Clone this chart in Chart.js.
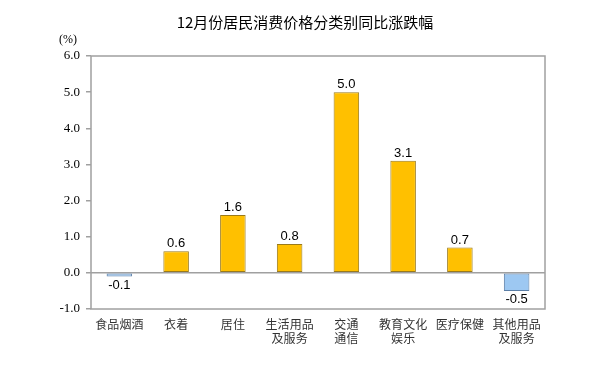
<!DOCTYPE html>
<html><head><meta charset="utf-8">
<script src="https://cdn.jsdelivr.net/npm/chart.js@4"></script>
<style>html,body{margin:0;padding:0;background:#fff}#wrap{width:607px;height:382px}</style>
</head><body><div id="wrap"><canvas id="c"></canvas></div>
<script>
const categoryLabels = [["食品烟酒"],["衣着"],["居住"],["生活用品","及服务"],["交通","通信"],["教育文化","娱乐"],["医疗保健"],["其他用品","及服务"]];
const values = [-0.1, 0.6, 1.6, 0.8, 5.0, 3.1, 0.7, -0.5];
const yTicks = [-1, 0, 1, 2, 3, 4, 5, 6];
const titleText = "12月份居民消费价格分类别同比涨跌幅";
const unitText = "(%)";

const posFill = '#FFC000', posBorder = '#9A7A1A';
const negFill = '#9DC8F2', negBorder = '#5A7EA6';

const decor = {
  id: 'decor',
  afterDraw(chart) {
    const ctx = chart.ctx, a = chart.chartArea;
    ctx.save();
    ctx.strokeStyle = '#A0A0A0'; ctx.lineWidth = 1.5;
    ctx.strokeRect(a.left, a.top, a.right - a.left, a.bottom - a.top);
    ctx.fillStyle = '#000';
    ctx.font = '15px "Noto Sans CJK SC"';
    ctx.textAlign = 'center'; ctx.textBaseline = 'middle';
    ctx.fillText(titleText, 305, 22);
    ctx.font = '12px "Liberation Serif"';
    ctx.fillText(unitText, 68, 40);
    const meta = chart.getDatasetMeta(0);
    ctx.font = '13px "Liberation Sans"';
    meta.data.forEach((bar, i) => {
      const v = values[i];
      if (v >= 0) { ctx.textBaseline = 'bottom'; ctx.fillText(v.toFixed(1), bar.x, bar.y - 1); }
      else { ctx.textBaseline = 'top'; ctx.fillText(v.toFixed(1), bar.x, bar.y + 2); }
    });
    ctx.restore();
  }
};

new Chart(document.getElementById('c'), {
  type: 'bar',
  data: {
    labels: categoryLabels,
    datasets: [{
      data: values,
      backgroundColor: values.map(v => v >= 0 ? posFill : negFill),
      borderColor: values.map(v => v >= 0 ? posBorder : negBorder),
      borderWidth: 1,
      borderSkipped: false,
      categoryPercentage: 0.9,
      barPercentage: 0.5
    }]
  },
  options: {
    responsive: true, maintainAspectRatio: false, animation: false,
    layout: { padding: { top: 56, right: 62, left: 0, bottom: 0 } },
    plugins: { legend: { display: false }, tooltip: { enabled: false }, title: { display: false } },
    scales: {
      x: {
        grid: { display: false, drawTicks: false },
        border: { display: false },
        ticks: { color: '#333', font: { family: '"Noto Sans CJK SC"', size: 12 }, padding: 8, maxRotation: 0, autoSkip: false },
        afterFit(s) { s.height = 73; }
      },
      y: {
        min: -1, max: 6,
        afterBuildTicks(s) { s.ticks = yTicks.map(v => ({ value: v })); },
        grid: {
          drawOnChartArea: true,
          color: c => (c.tick && c.tick.value === 0) ? '#A0A0A0' : 'rgba(0,0,0,0)',
          lineWidth: 1.5,
          tickColor: '#A0A0A0', tickLength: 5
        },
        border: { display: false },
        ticks: { color: '#000', font: { family: '"Liberation Serif"', size: 13 }, padding: 6, callback: v => Number(v).toFixed(1) },
        afterFit(s) { s.width = 91; }
      }
    }
  },
  plugins: [decor]
});
</script></body></html>
